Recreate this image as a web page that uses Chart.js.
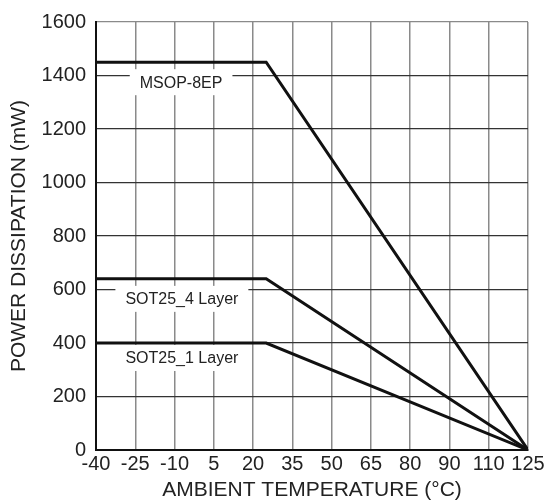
<!DOCTYPE html>
<html><head><meta charset="utf-8">
<script src="https://cdn.jsdelivr.net/npm/chart.js@4/dist/chart.umd.min.js"></script>
<style>html,body{margin:0;padding:0;background:#fff}#wrap{width:548px;height:500px}</style>
</head><body><div id="wrap"><canvas id="c" width="548" height="500"></canvas></div>
<script>
const temps = [-40, 25, 125];
const msop8ep = [1450, 1450, 0];
const sot25_4layer = [640, 640, 0];
const sot25_1layer = [400, 400, 0];
const xTickLabels = ['-40','-25','-10','5','20','35','50','65','80','90','110','125'];
const seriesNames = ['MSOP-8EP', 'SOT25_4 Layer', 'SOT25_1 Layer'];
// label anchors in data units (centre of each in-plot label)
const labelAnchors = [[-7.5, 1375], [-7.2, 565], [-7.2, 344]];

const FONT = '"Liberation Sans", Arial, sans-serif';
const toPts = arr => temps.map((t, i) => ({x: t, y: arr[i]}));
const ds = (name, arr) => ({label: name, data: toPts(arr), borderColor: '#111', borderWidth: 3,
  pointRadius: 0, fill: false, tension: 0});

const labelPlugin = {
  id: 'inlineLabels',
  afterDatasetsDraw(chart) {
    const {ctx, scales: {x, y}} = chart;
    ctx.save();
    ctx.font = '16px ' + FONT;
    ctx.textAlign = 'center';
    ctx.textBaseline = 'middle';
    seriesNames.forEach((n, i) => {
      const px = x.getPixelForValue(labelAnchors[i][0]);
      const py = y.getPixelForValue(labelAnchors[i][1]);
      const w = ctx.measureText(n).width + 20;
      ctx.fillStyle = '#fff';
      ctx.fillRect(px - w / 2, py - 13, w, 26);
      ctx.fillStyle = '#222';
      ctx.fillText(n, px, py + 1);
    });
    ctx.restore();
  }
};

new Chart(document.getElementById('c'), {
  type: 'line',
  data: {datasets: [ds(seriesNames[0], msop8ep), ds(seriesNames[1], sot25_4layer), ds(seriesNames[2], sot25_1layer)]},
  options: {
    responsive: false, animation: false, devicePixelRatio: 1,
    layout: {padding: {top: 17, right: 20, left: 0, bottom: 0}},
    plugins: {legend: {display: false}, tooltip: {enabled: false}},
    scales: {
      x: {
        type: 'linear', min: -40, max: 125,
        ticks: {stepSize: 15, autoSkip: false, maxRotation: 0, color: '#222', padding: 2,
          font: {family: FONT, size: 20},
          callback: (v, i) => xTickLabels[i]},
        grid: {color: '#8a8a8a', lineWidth: 1.5, drawTicks: false},
        border: {color: '#111', width: 2},
        title: {display: true, text: 'AMBIENT TEMPERATURE (°C)', color: '#222',
          font: {family: FONT, size: 21, lineHeight: 0.9}, padding: {top: 0, bottom: 0}},
        afterFit: s => { s.height = 50; }
      },
      y: {
        min: 0, max: 1600,
        ticks: {stepSize: 200, color: '#222', padding: 10,
          font: {family: FONT, size: 20},
          callback: v => String(v)},
        grid: {color: ctx => ctx.tick && ctx.tick.value === 1600 ? '#8a8a8a' : '#333', lineWidth: 1.2, drawTicks: false},
        border: {color: '#111', width: 2},
        title: {display: true, text: 'POWER DISSIPATION (mW)', color: '#222',
          font: {family: FONT, size: 21}, padding: {top: 7, bottom: 0}},
        afterFit: s => { s.width = 96; }
      }
    }
  },
  plugins: [labelPlugin]
});
</script></body></html>
